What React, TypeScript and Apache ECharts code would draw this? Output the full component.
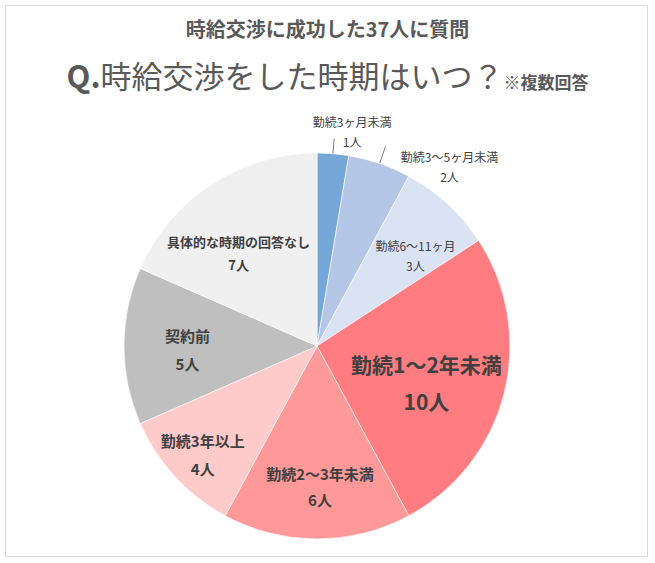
import React, { useEffect, useRef } from "react";
import * as echarts from "echarts";

const categories = [
  "勤続3ヶ月未満",
  "勤続3〜5ヶ月未満",
  "勤続6〜11ヶ月",
  "勤続1〜2年未満",
  "勤続2〜3年未満",
  "勤続3年以上",
  "契約前",
  "具体的な時期の回答なし",
];
const counts = [1, 2, 3, 10, 6, 4, 5, 7];
const sliceColors = ["#75a7d8", "#b4c7e7", "#dae3f3", "#ff7c80", "#ff9999", "#ffcaca", "#bfbfbf", "#f0f0f0"];

const titleMain = "時給交渉に成功した37人に質問";
const titleQ = "Q.";
const titleQuestion = "時給交渉をした時期はいつ？";
const titleNote = "※複数回答";

const FONT = "'Noto Sans CJK JP', 'Noto Sans', sans-serif";

// label styling per slice (style, not data)
const labelStyles = [
  { pos: "outside", size: 12, weight: "normal", lh: 20, dx: 13, dy: -7 },
  { pos: "outside", size: 12, weight: "normal", lh: 20, dx: 59, dy: 20 },
  { pos: "inside", size: 12, weight: "normal", lh: 20, dx: 31, dy: -17 },
  { pos: "inside", size: 21, weight: "bold", lh: 37, dx: 13, dy: 12 },
  { pos: "inside", size: 15, weight: "bold", lh: 26, dx: 3, dy: 41 },
  { pos: "inside", size: 15, weight: "bold", lh: 28, dx: -41, dy: 41 },
  { pos: "inside", size: 15, weight: "bold", lh: 28, dx: -30, dy: 3 },
  { pos: "inside", size: 13, weight: "bold", lh: 23, dx: -24, dy: -10 },
];

export default function App() {
  const ref = useRef<HTMLDivElement>(null);
  useEffect(() => {
    if (!ref.current) return;
    const chart = echarts.init(ref.current, null, { renderer: "svg" });
    const data = categories.map((name, i) => {
      const st = labelStyles[i];
      return {
        name,
        value: counts[i],
        itemStyle: { color: sliceColors[i] },
        label: {
          show: true,
          position: st.pos,
          fontSize: st.size,
          fontWeight: st.weight,
          lineHeight: st.lh,
          align: "center",
        },
        labelLine: { show: st.pos === "outside", length: st.pos === "outside" ? (i === 0 ? 15 : 18) : 0, length2: 0 },
      };
    });
    chart.setOption({
      animation: false,
      backgroundColor: "#ffffff",
      title: [
        {
          text: titleMain,
          left: "center",
          top: 16,
          padding: 0,
          textStyle: { fontFamily: FONT, fontSize: 20, fontWeight: "bold", color: "#595959", lineHeight: 24 },
        },
        {
          text: "{q|" + titleQ + "}{m|" + titleQuestion + "}{s|" + titleNote + "}",
          left: "center",
          top: 50,
          padding: 0,
          textStyle: {
            fontFamily: FONT,
            fontSize: 31,
            color: "#595959",
            lineHeight: 40,
            rich: {
              q: { fontFamily: FONT, fontSize: 31, fontWeight: "bold", color: "#595959", lineHeight: 40, verticalAlign: "bottom" },
              m: { fontFamily: FONT, fontSize: 31, fontWeight: "normal", color: "#595959", lineHeight: 40, verticalAlign: "bottom" },
              s: { fontFamily: FONT, fontSize: 17, fontWeight: "bold", color: "#595959", lineHeight: 40, verticalAlign: "bottom" },
            },
          },
        },
      ],
      graphic: [
        {
          type: "rect",
          shape: { x: 5.5, y: 5.5, width: 642, height: 551 },
          style: { fill: "none", stroke: "#d9d9d9", lineWidth: 1 },
          silent: true,
        },
      ],
      series: [
        {
          type: "pie",
          center: [317, 346],
          radius: 193,
          startAngle: 90,
          clockwise: true,
          avoidLabelOverlap: false,
          itemStyle: { borderColor: "#ffffff", borderWidth: 0.6 },
          label: {
            formatter: "{b}\n{c}人",
            color: "#404040",
            fontFamily: FONT,
          },
          labelLine: { lineStyle: { color: "#595959", width: 0.8 } },
          labelLayout: (params: any) => {
            const st = labelStyles[params.dataIndex];
            return { dx: st.dx, dy: st.dy, align: "center", verticalAlign: "middle" };
          },
          emphasis: { disabled: true },
          data,
        },
      ],
    });
    return () => chart.dispose();
  }, []);
  return <div ref={ref} style={{ position: "absolute", left: 0, top: 0, width: 655, height: 563 }} />;
}
